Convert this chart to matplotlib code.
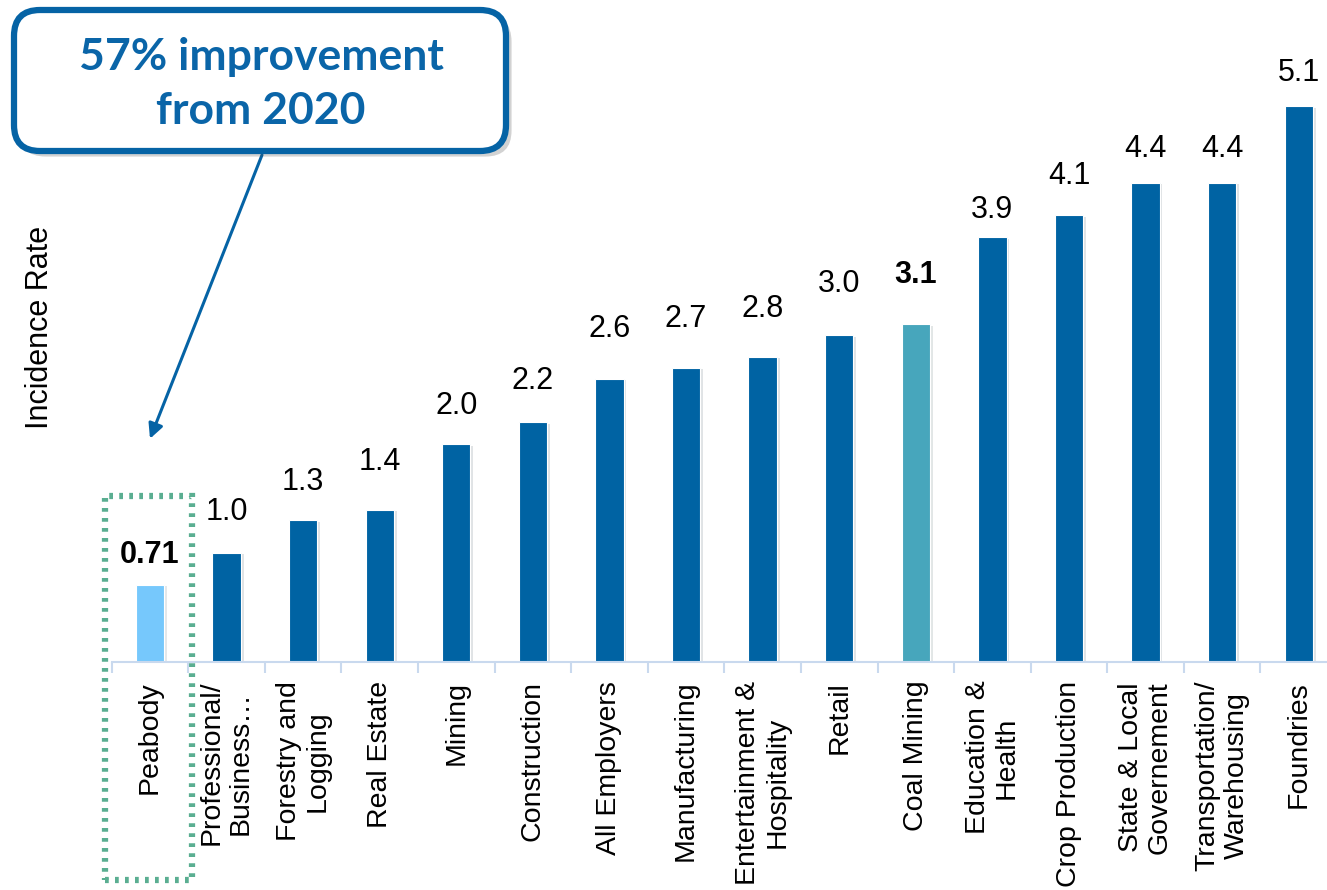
import matplotlib as mpl
mpl.use('Agg')
from matplotlib import pyplot as plt
from matplotlib.patches import FancyBboxPatch, Rectangle
import matplotlib.patheffects as pe

categories = [
    'Peabody', 'Professional/\nBusiness…', 'Forestry and\nLogging', 'Real Estate',
    'Mining', 'Construction', 'All Employers', 'Manufacturing',
    'Entertainment &\nHospitality', 'Retail', 'Coal Mining', 'Education &\nHealth',
    'Crop Production', 'State & Local\nGovernement', 'Transportation/\nWarehousing',
    'Foundries',
]
rates = [0.71, 1.0, 1.3, 1.4, 2.0, 2.2, 2.6, 2.7, 2.8, 3.0, 3.1, 3.9, 4.1, 4.4, 4.4, 5.1]
value_labels = ['0.71', '1.0', '1.3', '1.4', '2.0', '2.2', '2.6', '2.7', '2.8', '3.0',
                '3.1', '3.9', '4.1', '4.4', '4.4', '5.1']
bold_labels = ['Peabody', 'Coal Mining']

# gap (px) between bar top and label baseline, as placed in the original slide
label_gap_px = [22, 33, 30, 40, 30, 33, 42, 41, 40, 43, 41, 19, 31, 26, 26, 25]

dark_blue = '#0063a3'
colors = {'Peabody': '#76c8fc', 'Coal Mining': '#47a6bc'}

plt.rcParams['font.family'] = ['Liberation Sans', 'DejaVu Sans']

fig = plt.figure(figsize=(13.27, 8.9), dpi=100)
ax = fig.add_axes([111.7 / 1327, 228 / 890, (1337 - 111.7) / 1327, 610 / 890])

x = list(range(len(categories)))
bar_colors = [colors.get(c, dark_blue) for c in categories]
bars = ax.bar(x, rates, width=0.37, color=bar_colors, edgecolor='white', linewidth=0.8)
for b in bars:
    b.set_path_effects([pe.SimplePatchShadow(offset=(2, -1), alpha=0.12), pe.Normal()])

for xi, r, lab, c, g in zip(x, rates, value_labels, categories, label_gap_px):
    ax.annotate(lab, (xi, r), xytext=(0, g * 0.72), textcoords='offset points',
                ha='center', va='baseline', fontsize=22,
                fontweight='bold' if c in bold_labels else 'normal')

ax.set_xlim(-0.5, len(categories) - 0.5)
ax.set_ylim(0, 5.6)
ax.set_xticks([i - 0.5 for i in range(len(categories) + 1)])
ax.set_xticklabels([])
ax.set_xticks(x, minor=True)
ax.set_xticklabels(categories, minor=True, rotation=90, ha='center', va='top',
                   fontsize=20.5, multialignment='center', linespacing=1.15)
ax.tick_params(axis='x', which='minor', length=0, pad=13.5)
ax.tick_params(axis='x', which='major', length=8, color='#c9d9ee', width=1.5, direction='out')
ax.set_yticks([])
for s in ['top', 'right', 'left']:
    ax.spines[s].set_visible(False)
ax.spines['bottom'].set_color('#c9d9ee')
ax.spines['bottom'].set_linewidth(1.5)

fig.text(40 / 1327, 1 - 327 / 890, 'Incidence Rate', rotation=90, ha='center', va='center',
         fontsize=22)

# dotted highlight around Peabody
ax.add_patch(Rectangle((-0.59, -2.0), 1.14, 3.52, fill=False, edgecolor='#5aae91',
                       linestyle=(0, (0.6, 1.0)), linewidth=4.5, clip_on=False))

# callout box in pixel coordinates
ov = fig.add_axes([0, 0, 1, 1], zorder=5)
ov.set_xlim(0, 1327)
ov.set_ylim(890, 0)
ov.axis('off')
ov.patch.set_alpha(0)
box = FancyBboxPatch((14, 10), 492, 141, boxstyle='round,pad=0,rounding_size=26',
                     facecolor='white', edgecolor='#0563a5', linewidth=4.5)
box.set_path_effects([pe.SimplePatchShadow(offset=(4, -4), alpha=0.25), pe.Normal()])
ov.add_patch(box)
ov.text(261, 84, '57% improvement\nfrom 2020', ha='center', va='center', color='#0a65a8',
        fontsize=32, fontweight='bold', family=['Lato', 'DejaVu Sans'], linespacing=1.45)

ax.annotate('', xy=(0, 2.05), xycoords='data', xytext=(262 / 1327, 1 - 155 / 890),
            textcoords='figure fraction',
            arrowprops=dict(arrowstyle='-|>', color='#0563a5', lw=2.2, mutation_scale=22,
                            shrinkA=0, shrinkB=0), zorder=4)

plt.savefig('out.png', dpi=100)
